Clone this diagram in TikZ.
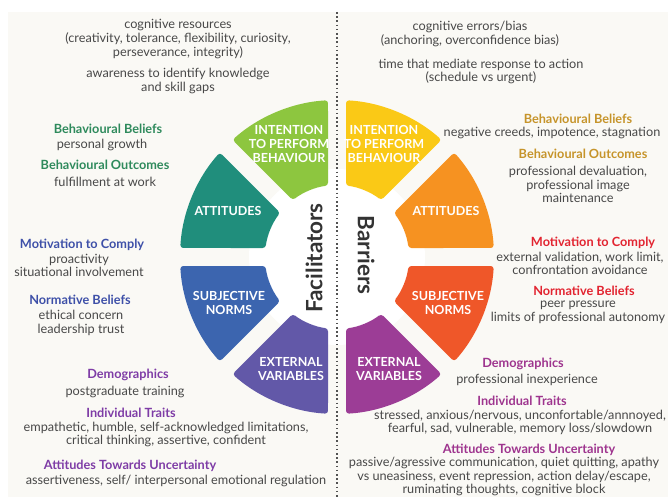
\documentclass[tikz,border=0pt]{standalone}
\usepackage{fontspec}
\setmainfont{Lato}
\usepackage{tikz}

\definecolor{paper}{RGB}{250,249,245}
\definecolor{notegray}{RGB}{72,72,72}
\definecolor{titlegray}{RGB}{51,51,51}
\definecolor{facgreen}{RGB}{46,138,92}
\definecolor{facblue}{RGB}{62,80,168}
\definecolor{facviolet}{RGB}{126,60,166}
\definecolor{bargold}{RGB}{198,148,42}
\definecolor{barred}{RGB}{226,36,48}
\definecolor{barmagenta}{RGB}{158,52,142}
\definecolor{wgreen}{RGB}{141,198,63}
\definecolor{wteal}{RGB}{32,142,124}
\definecolor{wblue}{RGB}{60,101,175}
\definecolor{wviolet}{RGB}{98,88,168}
\definecolor{wyellow}{RGB}{250,201,22}
\definecolor{worange}{RGB}{246,146,33}
\definecolor{wred}{RGB}{239,87,41}
\definecolor{wmagenta}{RGB}{156,61,150}
\tikzset{
  note/.style={font=\fontsize{12.7}{13.7}\selectfont, text=notegray, align=center, inner sep=0pt},
  factor/.style={font=\bfseries\fontsize{12.7}{13.7}\selectfont, inner sep=0pt},
  seglabel/.style={font=\bfseries\fontsize{12.5}{14}\selectfont, text=white, align=center, inner sep=0pt},
  sidetitle/.style={font=\bfseries\fontsize{22.5}{22.5}\selectfont, text=titlegray, inner sep=0pt},
  divider/.style={draw=titlegray!85, line width=1.6pt, dash pattern=on 1.6pt off 2.6pt},
  segment/.style={rounded corners=3pt}
}

% ring segment between two boundary angles, gaps kept parallel
\newcommand{\ringpart}[3]{%
  \fill[segment, #3] (#1+3.29:157) arc[start angle=#1+3.29, end angle=#2-3.29, radius=157]
    -- (#2-7.18:72) arc[start angle=#2-7.18, end angle=#1+7.18, radius=72] -- cycle;}

\begin{document}
\begin{tikzpicture}[x=1pt, y=1pt]
\useasboundingbox (0,0) rectangle (668,-497);
\fill[paper] (8,-12) rectangle (668,-497);

% -------- wheel --------
\begin{scope}[shift={(337,-257)}]
  \fill[white] (0,0) circle[radius=88];
  \ringpart{90}{135}{wgreen}
  \ringpart{135}{180}{wteal}
  \ringpart{180}{225}{wblue}
  \ringpart{225}{270}{wviolet}
  \ringpart{45}{90}{wyellow}
  \ringpart{0}{45}{worange}
  \ringpart{-45}{0}{wred}
  \ringpart{-90}{-45}{wmagenta}
\end{scope}

\coordinate (divtop) at (337,-12);
\coordinate (divbot) at (337,-497);
\draw[divider] (divtop) -- (divbot);

\node[seglabel] (facIntent) at (289,-144) {INTENTION\\TO PERFORM\\BEHAVIOUR};
\node[seglabel] (facAttit) at (228,-211) {ATTITUDES};
\node[seglabel] (facNorms) at (229,-303) {SUBJECTIVE\\NORMS};
\node[seglabel] (facExt) at (291,-369) {EXTERNAL\\VARIABLES};
\node[seglabel] (barIntent) at (384,-144) {INTENTION\\TO PERFORM\\BEHAVIOUR};
\node[seglabel] (barAttit) at (446,-211) {ATTITUDES};
\node[seglabel] (barNorms) at (448,-303) {SUBJECTIVE\\NORMS};
\node[seglabel] (barExt) at (389,-369) {EXTERNAL\\VARIABLES};

\node[sidetitle, rotate=90] (facTitle) at (314,-258) {Facilitators};
\node[sidetitle, rotate=-90] (barTitle) at (366,-255) {Barriers};

% -------- facilitators --------
\node[note] (facCog) at (178,-39) {cognitive resources\\(creativity, tolerance, flexibility, curiosity,\\perseverance, integrity)};
\node[note] (facAware) at (178,-81) {awareness to identify knowledge\\and skill gaps};

\node[factor, text=facgreen] (facBB) at (108,-129) {Behavioural Beliefs};
\node[note] (facBBtxt) at (102,-145) {personal growth};
\node[factor, text=facgreen] (facBO) at (105,-165) {Behavioural Outcomes};
\node[note] (facBOtxt) at (105,-182) {fulfillment at work};

\node[factor, text=facblue] (facMC) at (82,-245) {Motivation to Comply};
\node[note] (facMCtxt) at (79,-265.5) {proactivity\\situational involvement};
\node[factor, text=facblue] (facNB) at (80,-300) {Normative Beliefs};
\node[note] (facNBtxt) at (81,-323) {ethical concern\\leadership trust};

\node[factor, text=facviolet] (facDem) at (128,-375) {Demographics};
\node[note] (facDemtxt) at (125,-392) {postgraduate training};
\node[factor, text=facviolet] (facIT) at (131,-413) {Individual Traits};
\node[note] (facITtxt) at (166,-434.5) {empathetic, humble, self-acknowledged limitations,\\critical thinking, assertive, confident};
\node[factor, text=facviolet] (facAU) at (130,-466) {Attitudes Towards Uncertainty};
\node[note] (facAUtxt) at (176,-481) {assertiveness, self/ interpersonal emotional regulation};

% -------- barriers --------
\node[note] (barErr) at (470,-34) {cognitive errors/bias\\(anchoring, overconfidence bias)};
\node[note] (barTime) at (481,-71.5) {time that mediate response to action\\(schedule vs urgent)};

\node[factor, text=bargold] (barBB) at (578,-119) {Behavioural Beliefs};
\node[note] (barBBtxt) at (552,-133) {negative creeds, impotence, stagnation};
\node[factor, text=bargold] (barBO) at (583,-154) {Behavioural Outcomes};
\node[note] (barBOtxt) at (578,-184.5) {professional devaluation,\\professional image\\maintenance};

\node[factor, text=barred] (barMC) at (593,-243) {Motivation to Comply};
\node[note] (barMCtxt) at (580,-263.5) {external validation, work limit,\\confrontation avoidance};
\node[factor, text=barred] (barNB) at (584,-291) {Normative Beliefs};
\node[note] (barNBtxt) at (578,-312.5) {peer pressure\\limits of professional autonomy};

\node[factor, text=barmagenta] (barDem) at (523,-364) {Demographics};
\node[note] (barDemtxt) at (527,-380) {professional inexperience};
\node[factor, text=barmagenta] (barIT) at (522,-401) {Individual Traits};
\node[note] (barITtxt) at (520,-422.5) {stressed, anxious/nervous, unconfortable/annnoyed,\\fearful, sad, vulnerable, memory loss/slowdown};
\node[factor, text=barmagenta] (barAU) at (529,-450) {Attitudes Towards Uncertainty};
\node[note] (barAUtxt) at (504,-476.5) {passive/agressive communication, quiet quitting, apathy\\vs uneasiness, event repression, action delay/escape,\\ruminating thoughts, cognitive block};

\end{tikzpicture}
\end{document}
